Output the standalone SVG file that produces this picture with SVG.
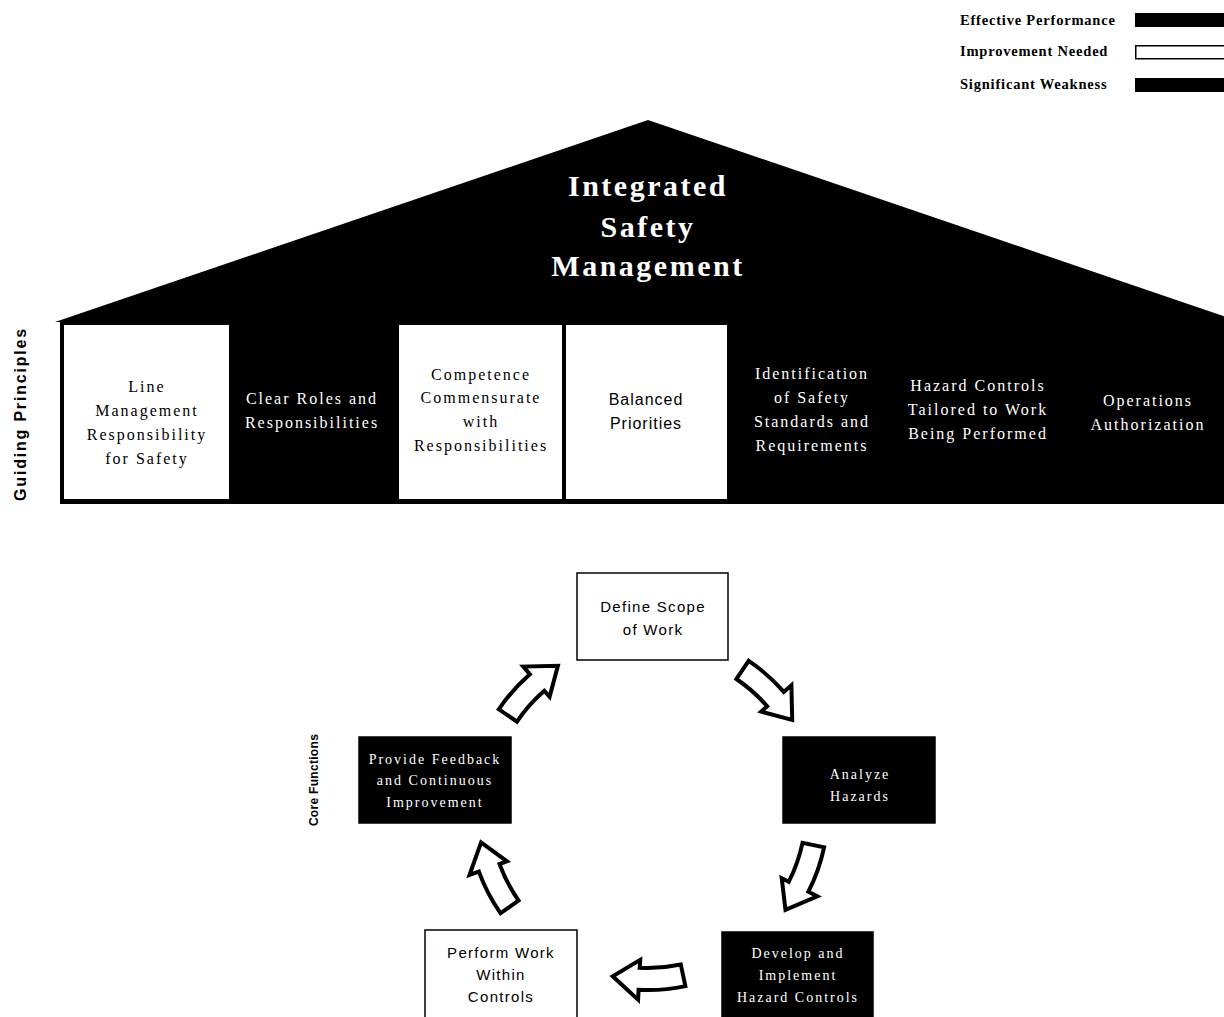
<svg xmlns="http://www.w3.org/2000/svg" width="1224" height="1017" viewBox="0 0 1224 1017">
<style>
.bg{fill:#ffffff}
.blk{fill:#000000}
.wbox{fill:#ffffff;stroke:#000000;stroke-width:1.5}
.bbox{fill:#000000;stroke:#000000;stroke-width:1.5}
.ser{font-family:"Liberation Serif","Times New Roman",serif;font-size:16px;letter-spacing:2px;text-anchor:middle}
.sans{font-family:"Liberation Sans",Arial,sans-serif;font-size:16px;letter-spacing:1px;text-anchor:middle}
.wt{fill:#ffffff}
.bt{fill:#000000}
.title{font-family:"Liberation Serif","Times New Roman",serif;font-size:30px;font-weight:bold;letter-spacing:2.5px;text-anchor:middle;fill:#ffffff}
.leg{font-family:"Liberation Serif","Times New Roman",serif;font-size:14.5px;font-weight:bold;letter-spacing:0.8px;fill:#000000}
.side{font-family:"Liberation Sans",Arial,sans-serif;font-weight:bold;fill:#000000;text-anchor:middle}
.cser{font-family:"Liberation Serif","Times New Roman",serif;font-size:14px;letter-spacing:2px;text-anchor:middle;fill:#ffffff}
.csans{font-family:"Liberation Sans",Arial,sans-serif;font-size:15px;letter-spacing:1.3px;text-anchor:middle;fill:#000000}
.arrow{fill:#ffffff;stroke:#000000;stroke-width:4;stroke-linejoin:miter}
</style>
<rect class="bg" x="0" y="0" width="1224" height="1017"/>

<g id="legend">
  <text class="leg" x="960" y="25">Effective Performance</text>
  <text class="leg" x="960" y="56">Improvement Needed</text>
  <text class="leg" x="960" y="89">Significant Weakness</text>
  <rect x="1135" y="13" width="92" height="14" fill="#000000"/>
  <rect x="1135.75" y="45.75" width="92" height="13" fill="#ffffff" stroke="#000000" stroke-width="1.5"/>
  <rect x="1135" y="78" width="92" height="14" fill="#000000"/>
</g>

<g id="house">
  <polygon class="blk" points="55,322 648,120 1241,322 1241,504 60,504 60,322"/>
  <text class="title" x="648" y="196">Integrated</text>
  <text class="title" x="648" y="237">Safety</text>
  <text class="title" x="648" y="276">Management</text>
</g>

<g id="guiding-principles-label">
  <text class="side" font-size="16" letter-spacing="1.8" transform="translate(26,414) rotate(-90)">Guiding Principles</text>
</g>

<g id="gp-line-management">
  <rect x="64" y="325" width="165" height="174" fill="#ffffff"/>
  <text class="ser bt" x="147" y="392">Line</text>
  <text class="ser bt" x="147" y="416">Management</text>
  <text class="ser bt" x="147" y="440">Responsibility</text>
  <text class="ser bt" x="147" y="464">for Safety</text>
</g>
<g id="gp-clear-roles">
  <text class="ser wt" x="312" y="404">Clear Roles and</text>
  <text class="ser wt" x="312" y="428">Responsibilities</text>
</g>
<g id="gp-competence">
  <rect x="399" y="325" width="163" height="174" fill="#ffffff"/>
  <text class="ser bt" x="481" y="380">Competence</text>
  <text class="ser bt" x="481" y="403">Commensurate</text>
  <text class="ser bt" x="481" y="427">with</text>
  <text class="ser bt" x="481" y="451">Responsibilities</text>
</g>
<g id="gp-balanced">
  <rect x="566" y="325" width="161" height="174" fill="#ffffff"/>
  <text class="sans bt" x="646" y="405">Balanced</text>
  <text class="sans bt" x="646" y="429">Priorities</text>
</g>
<g id="gp-identification">
  <text class="ser wt" x="812" y="379" letter-spacing="1.5">Identification</text>
  <text class="ser wt" x="812" y="403" letter-spacing="1.5">of Safety</text>
  <text class="ser wt" x="812" y="427" letter-spacing="1.5">Standards and</text>
  <text class="ser wt" x="812" y="451" letter-spacing="1.5">Requirements</text>
</g>
<g id="gp-hazard-controls">
  <text class="ser wt" x="978" y="391">Hazard Controls</text>
  <text class="ser wt" x="978" y="415">Tailored to Work</text>
  <text class="ser wt" x="978" y="439">Being Performed</text>
</g>
<g id="gp-operations">
  <text class="ser wt" x="1148" y="406">Operations</text>
  <text class="ser wt" x="1148" y="430">Authorization</text>
</g>

<g id="core-functions-label">
  <text class="side" font-size="12" letter-spacing="0.3" transform="translate(318,780) rotate(-90)">Core Functions</text>
</g>

<g id="cf-define-scope">
  <rect class="wbox" x="577" y="573" width="151" height="87"/>
  <text class="csans" x="653" y="612">Define Scope</text>
  <text class="csans" x="653" y="635">of Work</text>
</g>
<g id="cf-analyze-hazards">
  <rect class="bbox" x="783" y="737" width="152" height="86"/>
  <text class="cser" x="860" y="779">Analyze</text>
  <text class="cser" x="860" y="801">Hazards</text>
</g>
<g id="cf-develop-controls">
  <rect class="bbox" x="722" y="932" width="151" height="90"/>
  <text class="cser" x="798" y="958" letter-spacing="2.5">Develop and</text>
  <text class="cser" x="798" y="980" letter-spacing="2.5">Implement</text>
  <text class="cser" x="798" y="1002" letter-spacing="2.3">Hazard Controls</text>
</g>
<g id="cf-perform-work">
  <rect class="wbox" x="425" y="930" width="152" height="92"/>
  <text class="csans" x="501" y="958" letter-spacing="1.6">Perform Work</text>
  <text class="csans" x="501" y="980" letter-spacing="1.6">Within</text>
  <text class="csans" x="501" y="1002" letter-spacing="1.6">Controls</text>
</g>
<g id="cf-provide-feedback">
  <rect class="bbox" x="359" y="737" width="152" height="86"/>
  <text class="cser" x="435" y="764">Provide Feedback</text>
  <text class="cser" x="435" y="785">and Continuous</text>
  <text class="cser" x="435" y="807">Improvement</text>
</g>

<g id="connectors">
  <path class="arrow" d="M498.8,709.3 A180,180 0 0 1 529.9,674.2 L523.3,666.6 L557.9,665.8 L549.6,696.8 L544.3,690.8 A158,158 0 0 0 517.0,721.6 Z"/>
  <path class="arrow" d="M748.7,660.8 A180,180 0 0 1 783.8,691.9 L791.4,685.3 L792.2,719.9 L761.2,711.6 L767.2,706.3 A158,158 0 0 0 736.4,679.0 Z"/>
  <path class="arrow" d="M824.1,847.4 A180,180 0 0 1 808.4,891.7 L817.3,896.3 L785.5,909.9 L781.7,878.1 L788.8,881.7 A158,158 0 0 0 802.5,842.8 Z"/>
  <path class="arrow" d="M685.4,986.1 A180,180 0 0 1 638.6,989.8 L638.1,999.7 L612.7,976.3 L640.2,959.8 L639.7,967.8 A158,158 0 0 0 680.8,964.5 Z"/>
  <path class="arrow" d="M500.5,913.2 A180,180 0 0 1 478.9,871.6 L469.5,875.0 L481.1,842.4 L507.0,861.3 L499.5,864.0 A158,158 0 0 0 518.6,900.6 Z"/>
</g>
</svg>
